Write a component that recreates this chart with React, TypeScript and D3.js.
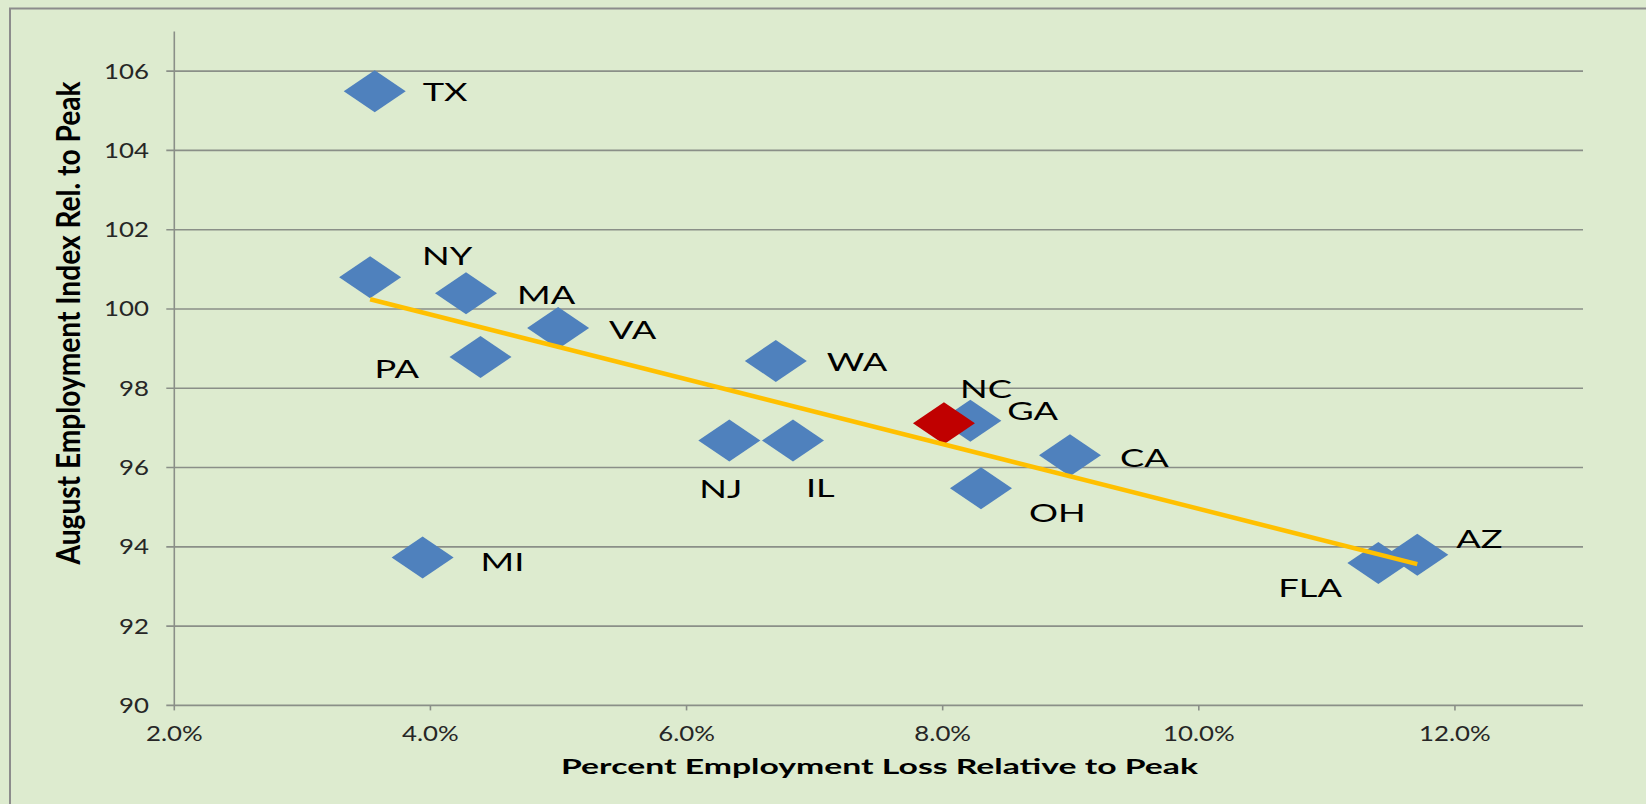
import React from "react";
import * as d3 from "d3";

// values
const states = ["TX", "NY", "MA", "VA", "PA", "WA", "NJ", "IL", "NC", "GA", "CA", "OH", "MI", "FLA", "AZ"];
const lossPct = [3.565, 3.529, 4.278, 4.997, 4.391, 6.697, 6.334, 6.831, 8.01, 8.216, 8.994, 8.299, 3.939, 11.402, 11.706];
const augIndex = [105.49, 100.8, 100.4, 99.52, 98.79, 98.69, 96.68, 96.68, 97.12, 97.18, 96.31, 95.48, 93.73, 93.59, 93.8];
const highlighted = "NC";
const xTicks = [2, 4, 6, 8, 10, 12];
const yTicks = [90, 92, 94, 96, 98, 100, 102, 104, 106];

// label placement relative to the marker: [dx to left edge, dy to middle of caps]
const labelOffsets: Record<string, [number, number]> = {
    TX: [48, 1], NY: [52, -21], MA: [51, 2], VA: [51, 2], PA: [-106, 12],
    WA: [51, 1], NJ: [-30, 48], IL: [13, 47], NC: [16, -34], GA: [37, -10],
    CA: [50, 3], OH: [48, 25], MI: [58, 4], FLA: [-100, 25], AZ: [39, -16],
};

const W = 1646, H = 804;
const margin = { left: 174.3, right: 1583, top: 31.5, bottom: 705.4 };
const font = "Lato, 'Open Sans', sans-serif";

export default function App() {
    const x = d3.scaleLinear().domain([2, 13]).range([margin.left, margin.right]);
    const y = d3.scaleLinear().domain([90, 107]).range([margin.bottom, margin.top]);

    const pts = states.map((s, i) => ({ s, x: lossPct[i], y: augIndex[i] }));

    // linear trend line (least squares), spanning min x to max x
    const mx = d3.mean(pts, d => d.x) as number;
    const my = d3.mean(pts, d => d.y) as number;
    const slope = d3.sum(pts, d => (d.x - mx) * (d.y - my)) / d3.sum(pts, d => (d.x - mx) ** 2);
    const [x0, x1] = d3.extent(pts, d => d.x) as [number, number];
    const trend = d3.line<number>().x(v => x(v)).y(v => y(my + slope * (v - mx)))([x0, x1]);

    const diamond = "M0,-21L31,0L0,21L-31,0Z";
    const order = [...pts.filter(d => d.s !== highlighted), ...pts.filter(d => d.s === highlighted)];

    return (
        <svg width={W} height={H} style={{ position: "absolute", left: 0, top: 0 }}>
            <rect x={0} y={0} width={W} height={H} fill="#DDEBCF" />
            <rect x={10} y={8.5} width={W + 20} height={H + 20} fill="none" stroke="#8c8c8c" strokeWidth={2} />

            {/* gridlines */}
            {yTicks.map(t => (
                <line key={t} x1={margin.left - 8} x2={margin.right} y1={y(t)} y2={y(t)}
                    stroke="#8a8f88" strokeWidth={1.6} />
            ))}
            <line x1={margin.left} x2={margin.left} y1={margin.top} y2={margin.bottom} stroke="#8a8f88" strokeWidth={1.6} />
            {xTicks.map(t => (
                <line key={t} x1={x(t)} x2={x(t)} y1={margin.bottom} y2={margin.bottom + 5} stroke="#8a8f88" strokeWidth={1.6} />
            ))}

            {/* tick labels */}
            {yTicks.map(t => (
                <text key={t} transform={`translate(149,${y(t) + 7.5}) scale(1.23,1)`} textAnchor="end"
                    fontFamily={font} fontSize={21} fill="#262626">{t}</text>
            ))}
            {xTicks.map(t => (
                <text key={t} transform={`translate(${x(t)},740.5) scale(1.23,1)`} textAnchor="middle"
                    fontFamily={font} fontSize={21} fill="#262626">{d3.format(".1f")(t) + "%"}</text>
            ))}

            {/* axis titles */}
            <text x={879.5} y={774} textAnchor="middle" fontFamily={font} fontSize={21} fontWeight="bold"
                textLength={637} lengthAdjust="spacingAndGlyphs" fill="#000">
                Percent Employment Loss Relative to Peak
            </text>
            <text transform="translate(80,323) scale(1.4,1) rotate(-90)" textAnchor="middle" fontFamily={font}
                fontSize={23} fontWeight="bold" textLength={483} lengthAdjust="spacingAndGlyphs" fill="#000">
                August Employment Index Rel. to Peak
            </text>

            {/* markers */}
            {order.map(d => (
                <path key={d.s} d={diamond} transform={`translate(${x(d.x)},${y(d.y)})`}
                    fill={d.s === highlighted ? "#C00000" : "#4F81BD"} />
            ))}

            <path d={trend ?? ""} fill="none" stroke="#FFC000" strokeWidth={4.5} />

            {/* state labels */}
            {pts.map(d => {
                const [dx, dy] = labelOffsets[d.s];
                return (
                    <text key={d.s} transform={`translate(${x(d.x) + dx},${y(d.y) + dy + 9}) scale(1.45,1)`}
                        fontFamily={font} fontSize={25} fill="#000">{d.s}</text>
                );
            })}
        </svg>
    );
}
